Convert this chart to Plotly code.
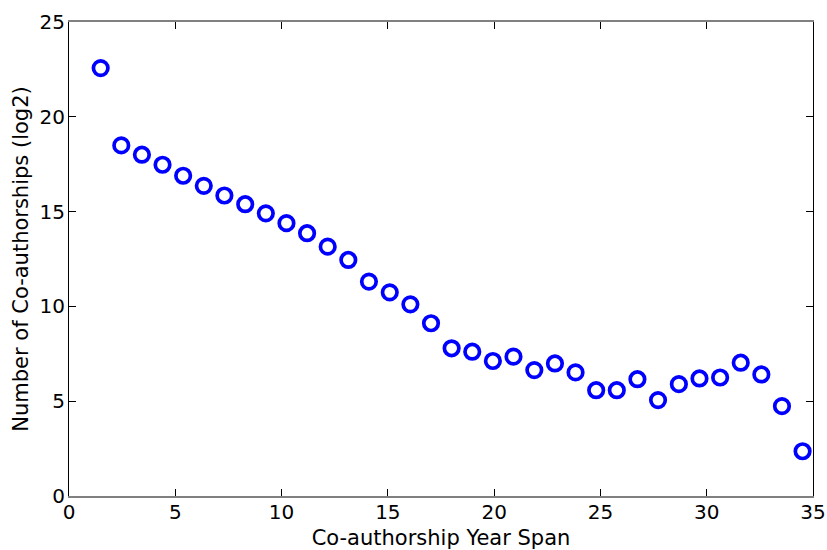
import plotly.graph_objects as go

year_span = [1.49, 2.46, 3.43, 4.40, 5.37, 6.34, 7.31, 8.29, 9.26, 10.23,
             11.20, 12.17, 13.14, 14.11, 15.09, 16.06, 17.03, 18.00, 18.97, 19.94,
             20.91, 21.89, 22.86, 23.83, 24.80, 25.77, 26.74, 27.71, 28.69, 29.66,
             30.63, 31.60, 32.57, 33.54, 34.51]
log2_counts = [22.57, 18.49, 18.00, 17.47, 16.89, 16.36, 15.85, 15.39, 14.91, 14.39,
               13.86, 13.15, 12.45, 11.31, 10.74, 10.11, 9.11, 7.79, 7.61, 7.12,
               7.35, 6.64, 6.99, 6.52, 5.58, 5.58, 6.16, 5.06, 5.90, 6.20,
               6.25, 7.03, 6.41, 4.74, 2.36]
x_ticks = [0, 5, 10, 15, 20, 25, 30, 35]
y_ticks = [0, 5, 10, 15, 20, 25]

fig = go.Figure()
fig.add_trace(go.Scatter(
    x=year_span, y=log2_counts, mode="markers",
    marker=dict(symbol="circle-open", size=14.5, color="#0000ff",
                line=dict(color="#0000ff", width=3.7)),
    showlegend=False,
))

tick_font = dict(family="DejaVu Sans, Liberation Sans, Arial, sans-serif", size=20, color="black")
title_font = dict(family="DejaVu Sans, Liberation Sans, Arial, sans-serif", size=21, color="black")

fig.update_layout(
    width=827, height=550,
    margin=dict(l=69, r=14, t=22, b=54, autoexpand=False),
    paper_bgcolor="white", plot_bgcolor="white",
    font=tick_font,
    xaxis=dict(range=[0, 35], tickvals=x_ticks, ticks="inside", ticklen=7,
               tickcolor="black", showline=True, linecolor="#808080", linewidth=1.5,
               mirror="ticks", showgrid=False, zeroline=False, automargin=False,
               ticklabelstandoff=-3,
               title=dict(text="Co-authorship Year Span", standoff=8, font=title_font),
               tickfont=tick_font),
    yaxis=dict(range=[0, 25], tickvals=y_ticks, ticks="inside", ticklen=7,
               tickcolor="black", showline=True, linecolor="black", linewidth=1,
               mirror="ticks", showgrid=False, zeroline=False, automargin=False,
               ticklabelstandoff=-1,
               title=dict(text="Number of Co-authorships (log2)", standoff=5, font=title_font),
               tickfont=tick_font),
)

fig.write_html("out.html")
